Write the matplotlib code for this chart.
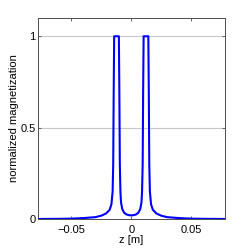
import matplotlib.pyplot as plt

# values (symmetric double-peak profile)
z = [-0.078, -0.06, -0.05, -0.04, -0.03, -0.025, -0.021, -0.018, -0.0165, -0.0155,
     -0.015, -0.0146, -0.0142, -0.0103, -0.0099, -0.0095, -0.009, -0.0085, -0.0075,
     -0.006, -0.004, -0.002, 0.0,
     0.002, 0.004, 0.006, 0.0075, 0.0085, 0.009, 0.0095, 0.0099, 0.0103, 0.0142,
     0.0146, 0.015, 0.0155, 0.0165, 0.018, 0.021, 0.025, 0.03, 0.04, 0.05, 0.06, 0.078]
mag = [0.0, 0.001, 0.002, 0.005, 0.01, 0.018, 0.03, 0.05, 0.08, 0.15,
       0.3, 0.7, 1.0, 1.0, 0.7, 0.3, 0.15, 0.09, 0.055,
       0.035, 0.025, 0.021, 0.02,
       0.021, 0.025, 0.035, 0.055, 0.09, 0.15, 0.3, 0.7, 1.0, 1.0,
       0.7, 0.3, 0.15, 0.08, 0.05, 0.03, 0.018, 0.01, 0.005, 0.002, 0.001, 0.0]

xticks = [-0.05, 0, 0.05]
xticklabels = ['\u22120.05', '0', '0.05']
yticks = [0, 0.5, 1]
yticklabels = ['0', '0.5', '1']

plt.rcParams['font.family'] = ['Liberation Sans', 'DejaVu Sans']

fig = plt.figure(figsize=(2.49, 2.49), dpi=100)
ax = fig.add_axes([37.5 / 249, 30 / 249, 187.5 / 249, 201 / 249])

ax.plot(z, mag, color='#0000ff', linewidth=1.5, zorder=3)

ax.set_xlim(-0.078, 0.078)
ax.set_ylim(0, 1.1)
ax.set_xticks(xticks)
ax.set_xticklabels(xticklabels)
ax.set_yticks(yticks)
ax.set_yticklabels(yticklabels)
ax.yaxis.grid(True, color='#c8c8c8', linewidth=0.8, zorder=0)
ax.tick_params(direction='in', top=True, right=True, labelsize=8,
               length=2.5, width=0.6, color='0.3')
ax.tick_params(axis='y', pad=1.5)
ax.tick_params(axis='x', pad=4)
for s in ax.spines.values():
    s.set_color('0.3')
    s.set_linewidth(0.7)

ax.set_xlabel('z [m]', fontsize=8, labelpad=0)
ax.set_ylabel('normalized magnetization', fontsize=8, labelpad=1)

fig.savefig('out.png', dpi=100)
